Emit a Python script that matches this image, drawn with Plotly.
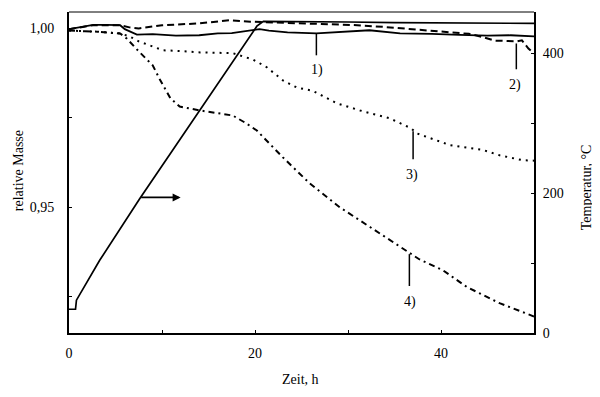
import plotly.graph_objects as go

# ---- data ----
time_1 = [0, 1.5, 2.6, 4, 5.5, 6.0, 7.3, 9, 11.5, 14, 16, 17.5, 19.5, 20.5, 21.5, 23.5, 26.6, 30.2, 32.3, 35.6, 39, 42, 45, 47.5, 49, 50]
mass_1 = [0.9997, 1.0004, 1.0009, 1.0009, 1.0008, 0.9997, 0.9982, 0.9983, 0.9979, 0.9980, 0.9985, 0.9986, 0.9993, 0.9997, 0.9993, 0.9988, 0.9985, 0.9990, 0.9994, 0.9985, 0.9984, 0.9981, 0.9979, 0.9980, 0.9978, 0.9977]

time_2 = [0, 2.6, 5.5, 6.5, 7.5, 10, 14, 17.3, 19.5, 22, 25, 28, 31, 34, 37, 40, 43, 44.5, 45.8, 47, 48.2, 48.7, 49.4, 50]
mass_2 = [0.9997, 1.0008, 1.0008, 1.0002, 0.9999, 1.0008, 1.0013, 1.0022, 1.0018, 1.0016, 1.0013, 1.0011, 1.0008, 1.0003, 0.9997, 0.9990, 0.9984, 0.9975, 0.9965, 0.9964, 0.9963, 0.9966, 0.9943, 0.9929]

time_3 = [0, 3, 5.5, 6.5, 7.5, 9.0, 10.1, 12, 14.1, 17.6, 19.8, 21.3, 23.0, 24.5, 26.2, 28.8, 31.3, 34.5, 36.8, 37.4, 41, 44.5, 46.3, 48.8, 50]
mass_3 = [0.9993, 0.9990, 0.9985, 0.9977, 0.9963, 0.9949, 0.9938, 0.9936, 0.9932, 0.9930, 0.9912, 0.9890, 0.9854, 0.9834, 0.9825, 0.9790, 0.9770, 0.9748, 0.9720, 0.9706, 0.9673, 0.9660, 0.9645, 0.9631, 0.9630]

time_4 = [0, 3, 5.5, 6.2, 7.5, 9.0, 9.8, 10.9, 11.9, 14.1, 17.6, 19.0, 20.2, 23.0, 25.9, 29.1, 32.4, 35.3, 37.7, 40.2, 42.8, 46.3, 49.6, 50]
mass_4 = [0.9993, 0.9990, 0.9985, 0.9971, 0.9935, 0.9896, 0.9855, 0.9804, 0.9781, 0.9770, 0.9756, 0.9735, 0.9714, 0.9639, 0.9566, 0.9500, 0.9444, 0.9394, 0.9354, 0.9324, 0.9277, 0.9232, 0.9199, 0.9195]

time_T = [0, 0.7, 0.8, 3.3, 7.6, 17.3, 20.2, 20.9, 25, 30, 35, 40, 45, 50]
temp_T = [34, 34, 47, 104, 192, 381, 439, 446, 446, 445, 444, 444, 443, 443]

x_tickvals = [0, 10, 20, 30, 40, 50]
x_ticktext = ["0", "", "20", "", "40", ""]
y_tickvals = [0.925, 0.95, 0.975, 1.0]
y_ticktext = ["", "0,95", "", "1,00"]
y2_tickvals = [0, 100, 200, 300, 400]
y2_ticktext = ["0", "", "200", "", "400"]

curve_labels = ["1)", "2)", "3)", "4)"]
label_t = [26.7, 48.0, 36.9, 36.7]
label_m = [0.9882, 0.9840, 0.9589, 0.9235]
pointer_t = [26.6, 48.1, 37.0, 36.6]
pointer_top = [0.9985, 0.9957, 0.9712, 0.9369]
pointer_bottom = [0.9924, 0.9885, 0.9634, 0.9280]

arrow_tail = (7.6, 194)
arrow_head = (12.0, 194)

FONT = "Liberation Serif, Times New Roman, serif"

fig = go.Figure()
fig.add_trace(go.Scatter(x=time_1, y=mass_1, mode="lines", line=dict(color="black", width=1.8), yaxis="y"))
fig.add_trace(go.Scatter(x=time_2, y=mass_2, mode="lines", line=dict(color="black", width=2, dash="7px,4px"), yaxis="y"))
fig.add_trace(go.Scatter(x=time_3, y=mass_3, mode="lines", line=dict(color="black", width=2, dash="2px,5px"), yaxis="y"))
fig.add_trace(go.Scatter(x=time_4, y=mass_4, mode="lines", line=dict(color="black", width=2, dash="6px,4px,2px,4px"), yaxis="y"))
fig.add_trace(go.Scatter(x=time_T, y=temp_T, mode="lines", line=dict(color="black", width=1.7), yaxis="y2"))

# pointer lines for curve labels
for pt, top, bot in zip(pointer_t, pointer_top, pointer_bottom):
    fig.add_trace(go.Scatter(x=[pt, pt], y=[top, bot], mode="lines", line=dict(color="black", width=1.5), yaxis="y"))

for txt, lt, lm in zip(curve_labels, label_t, label_m):
    fig.add_annotation(x=lt, y=lm, xref="x", yref="y", text=txt, showarrow=False,
                       xanchor="center", yanchor="middle",
                       font=dict(family=FONT, size=14, color="black"))

fig.add_annotation(x=arrow_head[0], y=arrow_head[1], xref="x", yref="y2",
                   ax=arrow_tail[0], ay=arrow_tail[1], axref="x", ayref="y2",
                   text="", showarrow=True, arrowhead=2, arrowsize=1, arrowwidth=1.6, arrowcolor="black")

# axis titles
fig.add_annotation(x=-0.1097, y=0.507, xref="paper", yref="paper", text="relative Masse", textangle=-90,
                   xanchor="center", yanchor="middle",
                   showarrow=False, font=dict(family=FONT, size=14, color="black"))
fig.add_annotation(x=1.1118, y=0.454, xref="paper", yref="paper", text="Temperatur, °C", textangle=-90,
                   xanchor="center", yanchor="middle",
                   showarrow=False, font=dict(family=FONT, size=14, color="black"))
fig.add_annotation(x=0.4978, y=-0.146, xref="paper", yref="paper", text="Zeit, h",
                   xanchor="center", yanchor="middle",
                   showarrow=False, font=dict(family=FONT, size=14, color="black"))

# top frame line
fig.add_shape(type="line", xref="paper", yref="paper", x0=0, x1=1, y0=1, y1=1, line=dict(color="black", width=1))

fig.update_layout(
    width=600, height=397,
    margin=dict(l=61, r=74, t=3.5, b=72, autoexpand=False),
    paper_bgcolor="white", plot_bgcolor="white",
    showlegend=False,
    font=dict(family=FONT, size=14, color="black"),
    xaxis=dict(range=[0, 50], tickvals=x_tickvals, ticktext=x_ticktext, ticks="inside", ticklen=3,
               tickwidth=1, tickcolor="black", showline=True, linecolor="black", linewidth=2,
               showgrid=False, zeroline=False, ticklabelstandoff=6, automargin=False),
    yaxis=dict(range=[0.91488, 1.00449], tickvals=y_tickvals, ticktext=y_ticktext, ticks="inside", ticklen=3,
               tickwidth=1, tickcolor="black", showline=True, linecolor="black", linewidth=2,
               showgrid=False, zeroline=False, ticklabelstandoff=10, automargin=False),
    yaxis2=dict(range=[0, 459.3], tickvals=y2_tickvals, ticktext=y2_ticktext, ticks="inside", ticklen=3,
                tickwidth=1, tickcolor="black", showline=True, linecolor="black", linewidth=2,
                showgrid=False, zeroline=False, overlaying="y", side="right", ticklabelstandoff=4,
                automargin=False),
)

fig.write_html("out.html")
